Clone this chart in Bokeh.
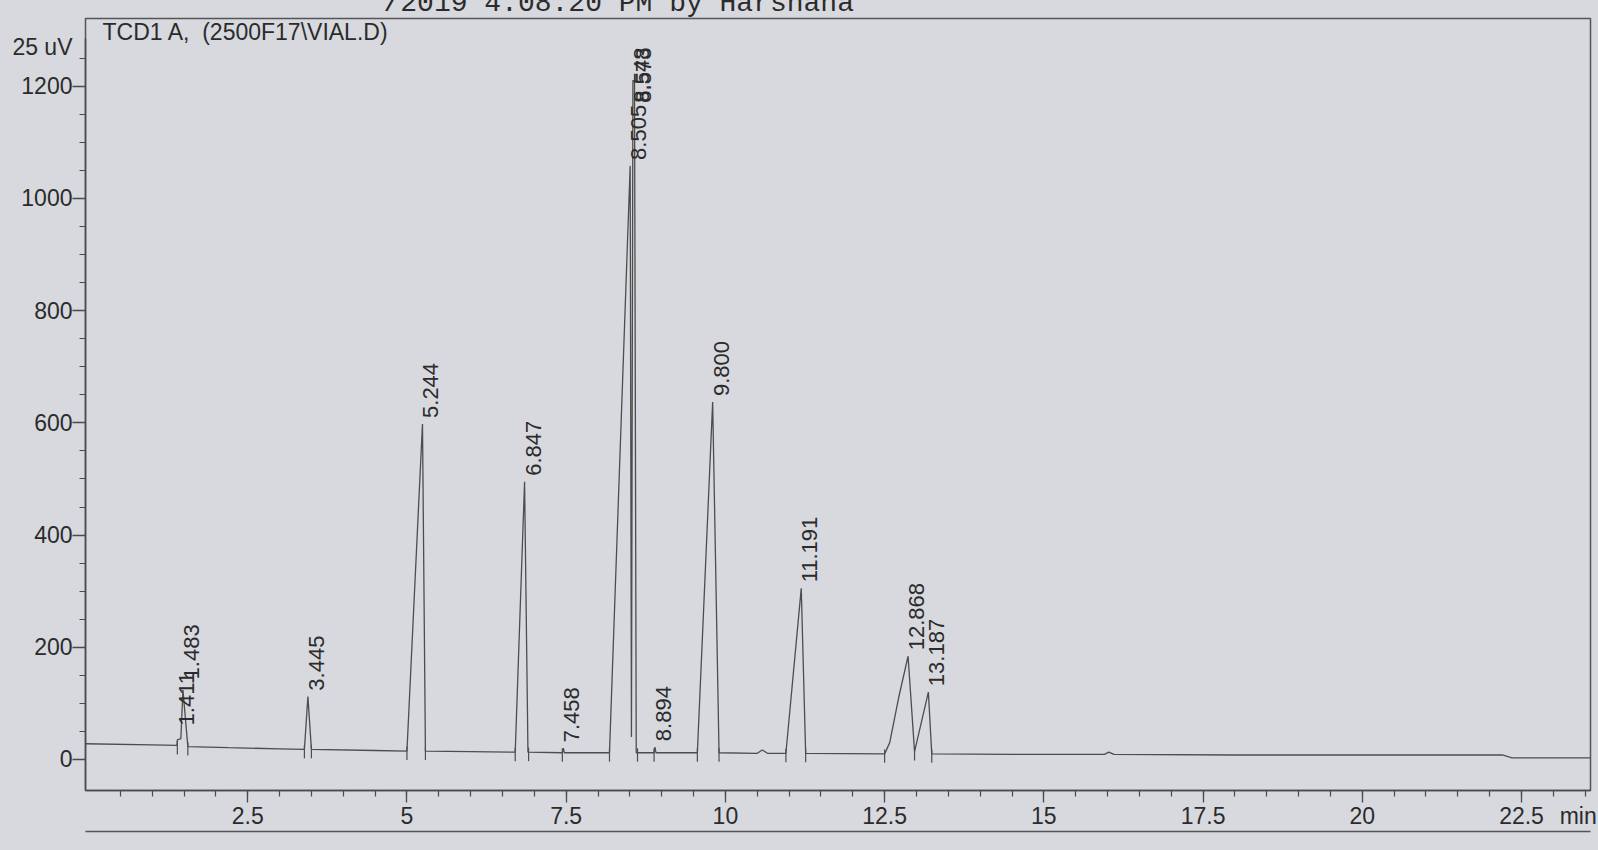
import numpy as np
from bokeh.plotting import figure
from bokeh.models import ColumnDataSource, FixedTicker, Label, Range1d, LinearAxis
from bokeh.core.properties import value
from bokeh.embed import file_html
from bokeh.resources import INLINE

# ---- data (time in min, signal in 25 uV units) ----
trace_time = [-0.05, 1.00, 1.39, 1.395, 1.45, 1.483, 1.56, 2.20, 3.00, 3.39, 3.445, 3.50,
              4.50, 5.00, 5.244, 5.29, 6.00, 6.70, 6.847, 6.90, 7.44, 7.458, 7.47,
              8.18, 8.505, 8.525, 8.548, 8.573, 8.60, 8.88, 8.894, 8.91,
              9.56, 9.800, 9.90, 10.50, 10.58, 10.66, 10.95, 11.191, 11.26,
              12.50, 12.58, 12.72, 12.868, 12.97, 13.187, 13.24,
              14.50, 15.95, 16.02, 16.10, 18.00, 22.20, 22.35, 23.60]
trace_signal = [28, 26, 25, 35, 37, 124, 23, 21, 19, 18, 112, 18,
                16, 15, 598, 15, 14, 13, 495, 13, 12, 20, 12,
                12, 1058, 40, 1210, 1210, 12, 12, 22, 12,
                12, 637, 12, 11, 17, 11, 11, 305, 11,
                10, 30, 110, 184, 14, 120, 10,
                9, 9, 13, 9, 8, 8, 3, 3]

peak_labels = ["1.411", "1.483", "3.445", "5.244", "6.847", "7.458", "8.505",
               "8.548", "8.573", "8.894", "9.800", "11.191", "12.868", "13.187"]
label_time = [1.411, 1.483, 3.445, 5.244, 6.847, 7.458, 8.505,
              8.548, 8.573, 8.894, 9.800, 11.191, 12.868, 13.187]
label_level = [50, 132, 112, 598, 495, 20, 1058,
               1160, 1160, 22, 637, 305, 184, 120]

event_time = [1.395, 1.56, 3.39, 3.50, 5.00, 5.29, 6.70, 6.91, 7.44,
              8.18, 8.62, 8.88, 9.56, 9.90, 10.95, 11.26, 12.50, 12.97, 13.24]
event_level = [25, 23, 18, 18, 15, 15, 13, 13, 12,
               12, 12, 12, 12, 12, 11, 11, 10, 14, 10]

x_major = [2.5, 5, 7.5, 10, 12.5, 15, 17.5, 20, 22.5]
x_major_text = ["2.5", "5", "7.5", "10", "12.5", "15", "17.5", "20", "22.5"]
x_minor = [i * 0.5 for i in range(1, 48)]
x_unit_pos, x_unit_text = 23.39, "min"
y_major = [0, 200, 400, 600, 800, 1000, 1200]
y_major_text = ["0", "200", "400", "600", "800", "1000", "1200"]
y_minor = [i * 50 for i in range(0, 26)]
y_unit_pos, y_unit_text = 1270, "25 uV"

signal_title = "TCD1 A, \u00a0(2500F17\\VIAL.D)"
header_text = "/2019 4:08:20 PM by Harshana"

PAPER = "#d7d9de"
INK = "#2b2b2b"
LINE = "#4a4a4a"
TRACE = "#4d4d4d"
FONT = "Liberation Sans"
SHIFT = 26  # canvas rows hidden above the page top (header is cut off)

p = figure(width=1598, height=850 + SHIFT, x_range=Range1d(-0.047, 23.583), y_range=Range1d(-55.3, 1320.7),
           output_backend="svg", toolbar_location=None,
           min_border_left=85, min_border_right=8, min_border_top=18 + SHIFT, min_border_bottom=60)
p.margin = (-SHIFT, 0, 0, 0)
p.background_fill_color = PAPER
p.border_fill_color = PAPER
p.outline_line_color = "#555555"
p.outline_line_width = 1.5
p.grid.visible = False

# header (cut off by the top of the page)
p.title.text = header_text
p.title.align = "left"
p.title.offset = 298
p.title.standoff = 0
p.title.vertical_align = "bottom"
p.title.text_font = "Liberation Mono"
p.title.text_font_size = "28px"
p.title.text_font_style = "normal"
p.title.text_color = INK

def tick_axis(ax, ticker, major_out, minor_out):
    ax.ticker = ticker
    ax.axis_line_color = LINE
    ax.axis_line_width = 1.5
    ax.major_tick_line_color = LINE
    ax.minor_tick_line_color = LINE
    ax.major_tick_line_width = 1.3
    ax.minor_tick_line_width = 1.2
    ax.major_tick_in = 0
    ax.major_tick_out = major_out
    ax.minor_tick_in = 0
    ax.minor_tick_out = minor_out
    ax.major_label_standoff = 0
    ax.major_label_text_font_size = "0px"
    ax.major_label_text_color = None

def label_axis(ticks, texts, standoff):
    ax = LinearAxis(ticker=FixedTicker(ticks=ticks, minor_ticks=[]))
    ax.axis_line_color = None
    ax.major_tick_line_color = None
    ax.minor_tick_line_color = None
    ax.major_tick_in = 0
    ax.major_tick_out = 0
    ax.minor_tick_in = 0
    ax.minor_tick_out = 0
    ax.major_label_standoff = standoff
    ax.major_label_overrides = {t: s for t, s in zip(ticks, texts)}
    ax.major_label_text_font = FONT
    ax.major_label_text_font_size = "23px"
    ax.major_label_text_color = INK
    return ax

# x axis: ticks, then labels, then the page frame line
tick_axis(p.xaxis[0], FixedTicker(ticks=x_major, minor_ticks=x_minor), 12, 6)
p.add_layout(label_axis(x_major + [x_unit_pos], x_major_text + [x_unit_text], 0), "below")
frame_line = LinearAxis(ticker=FixedTicker(ticks=[], minor_ticks=[]))
frame_line.axis_line_color = "#555555"
frame_line.axis_line_width = 1.5
frame_line.major_tick_line_color = None
frame_line.minor_tick_line_color = None
frame_line.major_label_text_font_size = "0px"
frame_line.major_label_text_color = None
frame_line.major_label_standoff = 0
frame_line.major_tick_out = 0
frame_line.minor_tick_out = 0
p.add_layout(frame_line, "below")

# y axis: ticks, then labels
tick_axis(p.yaxis[0], FixedTicker(ticks=y_major, minor_ticks=y_minor), 13, 6)
p.yaxis[0].bounds = (-55.3, 1285)
p.add_layout(label_axis(y_major + [y_unit_pos], y_major_text + [y_unit_text], 0), "left")

# trace
src = ColumnDataSource(dict(t=trace_time, v=trace_signal))
p.line("t", "v", source=src, line_color=TRACE, line_width=1.3)

# integration event marks
ev = ColumnDataSource(dict(t=event_time, lo=[e - 16 for e in event_level], hi=[e + 8 for e in event_level]))
p.segment(x0="t", y0="lo", x1="t", y1="hi", source=ev, line_color=TRACE, line_width=1.2)

# retention time labels
lab = ColumnDataSource(dict(t=label_time, v=label_level, s=peak_labels))
p.text(x="t", y="v", text="s", source=lab, angle=np.pi / 2, text_align="left",
       text_baseline="top", x_offset=1, y_offset=-6,
       text_font=value(FONT), text_font_size="22px", text_color=INK)

# signal description inside the frame
p.add_layout(Label(x=17, y=772, x_units="screen", y_units="screen", text=signal_title,
                   text_align="left", text_baseline="top",
                   text_font=FONT, text_font_size="23px", text_color=INK))

html = file_html(p, INLINE, title="TCD1 A",
                 template="{% block postamble %}<style>html, body {background:#d7d9de;}</style>{% endblock %}")
open("out.html", "w").write(html)
